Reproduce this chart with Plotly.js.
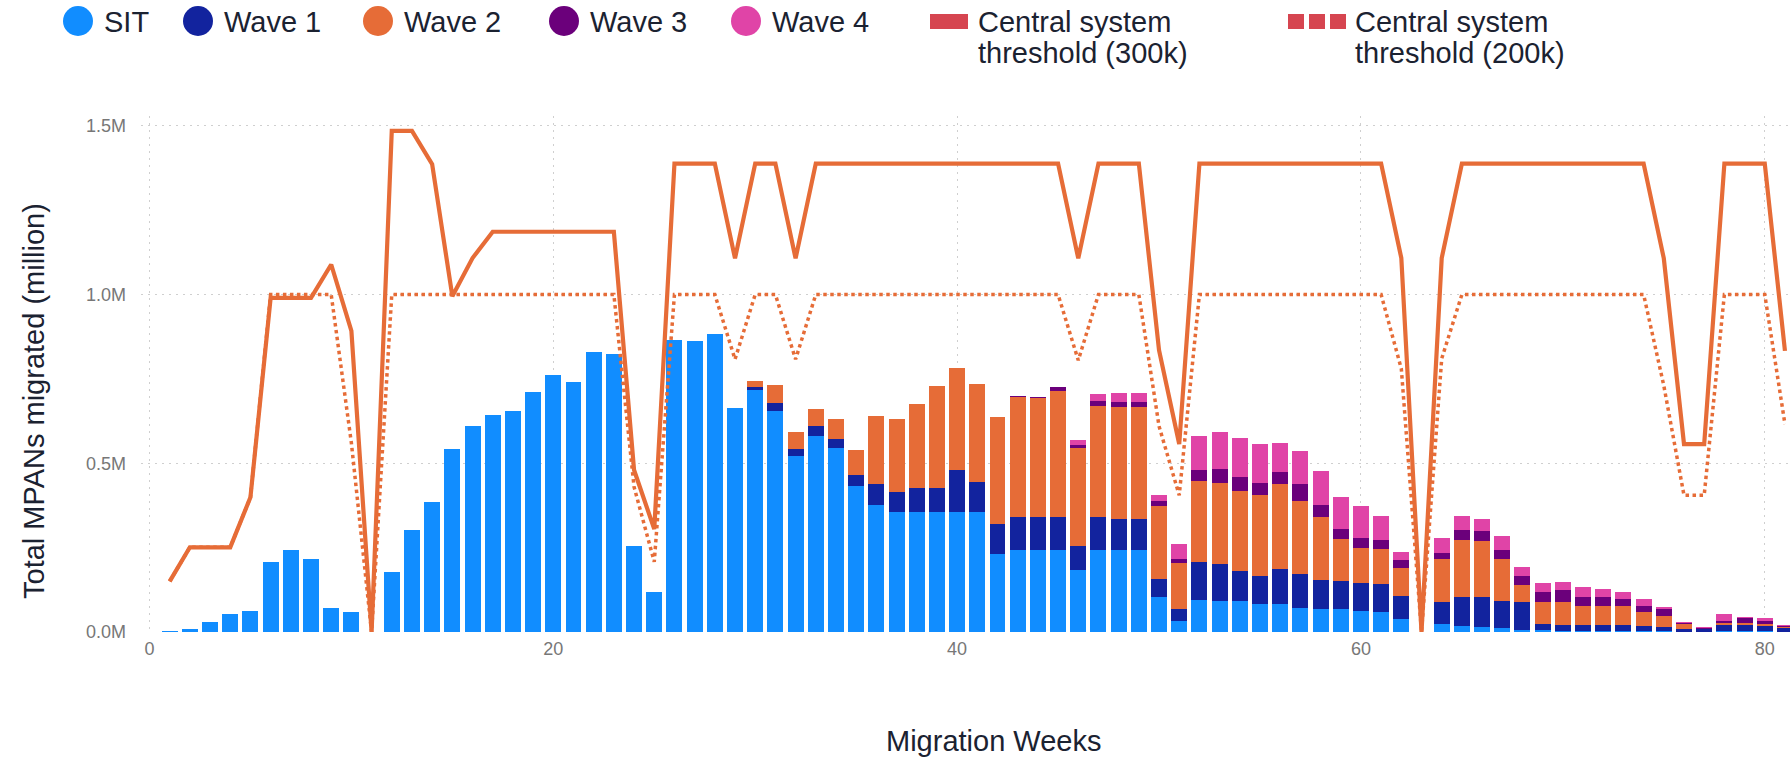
<!DOCTYPE html>
<html>
<head>
<meta charset="utf-8">
<script src="https://cdn.plot.ly/plotly-3.0.1.min.js"></script>
<style>
html,body{margin:0;padding:0;background:#ffffff;}
#chart{width:1790px;height:758px;}
</style>
</head>
<body>
<div id="chart"></div>
<script>
// ---------- DATA (values in millions of MPANs) ----------
const weeks = [1,2,3,4,5,6,7,8,9,10,11,12,13,14,15,16,17,18,19,20,
  21,22,23,24,25,26,27,28,29,30,31,32,33,34,35,36,37,38,39,40,
  41,42,43,44,45,46,47,48,49,50,51,52,53,54,55,56,57,58,59,60,
  61,62,63,64,65,66,67,68,69,70,71,72,73,74,75,76,77,78,79,80,81];

const sit = [0.003,0.008,0.030,0.053,0.061,0.207,0.244,0.215,0.072,0.058,
  0,0.177,0.302,0.385,0.541,0.609,0.643,0.654,0.710,0.763,
  0.742,0.829,0.825,0.256,0.119,0.865,0.862,0.883,0.664,0.718,
  0.655,0.522,0.582,0.546,0.434,0.376,0.355,0.355,0.355,0.355,
  0.355,0.230,0.242,0.242,0.242,0.185,0.244,0.244,0.244,0.105,
  0.032,0.095,0.093,0.092,0.082,0.082,0.071,0.067,0.067,0.061,
  0.060,0.039,0,0.024,0.018,0.016,0.011,0.007,0.005,0.004,
  0.003,0.003,0.003,0.002,0.002,0.001,0.001,0.002,0.002,0.002,
  0.001];

const wave1 = [0,0,0,0,0,0,0,0,0,0,
  0,0,0,0,0,0,0,0,0,0,
  0,0,0,0,0,0,0,0,0,0.007,
  0.024,0.019,0.027,0.026,0.030,0.064,0.061,0.072,0.072,0.125,
  0.089,0.091,0.099,0.099,0.099,0.069,0.097,0.090,0.090,0.053,
  0.036,0.112,0.108,0.088,0.084,0.106,0.100,0.086,0.083,0.085,
  0.083,0.067,0,0.066,0.086,0.088,0.081,0.082,0.019,0.017,
  0.017,0.017,0.017,0.016,0.014,0.008,0.007,0.019,0.019,0.017,
  0.012];

const wave2 = [0,0,0,0,0,0,0,0,0,0,
  0,0,0,0,0,0,0,0,0,0,
  0,0,0,0,0,0,0,0,0,0.019,
  0.052,0.053,0.053,0.060,0.076,0.199,0.216,0.250,0.301,0.301,
  0.290,0.316,0.355,0.353,0.374,0.292,0.330,0.333,0.333,0.215,
  0.136,0.240,0.242,0.237,0.240,0.250,0.218,0.188,0.125,0.103,
  0.103,0.085,0,0.125,0.169,0.166,0.125,0.049,0.066,0.067,
  0.056,0.056,0.056,0.042,0.032,0.016,0.002,0.005,0.005,0.005,
  0.003];

const wave3 = [0,0,0,0,0,0,0,0,0,0,
  0,0,0,0,0,0,0,0,0,0,
  0,0,0,0,0,0,0,0,0,0,
  0,0,0,0,0,0,0,0,0,0,
  0,0,0.002,0.003,0.010,0.007,0.014,0.016,0.016,0.016,
  0.011,0.032,0.041,0.042,0.036,0.036,0.049,0.035,0.030,0.029,
  0.026,0.021,0,0.018,0.029,0.030,0.025,0.028,0.029,0.036,
  0.028,0.028,0.023,0.018,0.019,0.002,0.001,0.006,0.016,0.008,
  0.002];

const wave4 = [0,0,0,0,0,0,0,0,0,0,
  0,0,0,0,0,0,0,0,0,0,
  0,0,0,0,0,0,0,0,0,0,
  0,0,0,0,0,0,0,0,0,0,
  0,0,0,0,0,0.017,0.019,0.024,0.024,0.016,
  0.047,0.102,0.108,0.117,0.114,0.085,0.099,0.101,0.095,0.096,
  0.071,0.026,0,0.045,0.041,0.036,0.041,0.028,0.027,0.024,
  0.028,0.022,0.021,0.020,0.007,0.003,0.005,0.021,0.002,0.010,
  0.003];

const threshold300k = [0.150,0.251,0.251,0.251,0.399,0.990,0.990,0.990,1.089,0.892,
  0,1.485,1.485,1.386,0.995,1.108,1.186,1.186,1.186,1.186,
  1.186,1.186,1.186,0.480,0.305,1.388,1.388,1.388,1.107,1.388,
  1.388,1.107,1.388,1.388,1.388,1.388,1.388,1.388,1.388,1.388,
  1.388,1.388,1.388,1.388,1.388,1.107,1.388,1.388,1.388,0.835,
  0.557,1.388,1.388,1.388,1.388,1.388,1.388,1.388,1.388,1.388,
  1.388,1.108,0,1.108,1.388,1.388,1.388,1.388,1.388,1.388,
  1.388,1.388,1.388,1.388,1.107,0.557,0.557,1.388,1.388,1.388,
  0.833];

const threshold200k = [0.150,0.251,0.251,0.251,0.399,1.0,1.0,1.0,1.0,0.56,
  0,1.0,1.0,1.0,1.0,1.0,1.0,1.0,1.0,1.0,
  1.0,1.0,1.0,0.43,0.208,1.0,1.0,1.0,0.808,1.0,
  1.0,0.808,1.0,1.0,1.0,1.0,1.0,1.0,1.0,1.0,
  1.0,1.0,1.0,1.0,1.0,0.805,1.0,1.0,1.0,0.61,
  0.405,1.0,1.0,1.0,1.0,1.0,1.0,1.0,1.0,1.0,
  1.0,0.78,0,0.81,1.0,1.0,1.0,1.0,1.0,1.0,
  1.0,1.0,1.0,1.0,0.73,0.405,0.405,1.0,1.0,1.0,
  0.616];

const barSeriesNames = ['SIT','Wave 1','Wave 2','Wave 3','Wave 4'];
const lineSeriesNames = ['Central system threshold (300k)','Central system threshold (200k)'];
const xTitle = 'Migration Weeks';
const yTitle = 'Total MPANs migrated (million)';

// ---------- STYLE / LAYOUT ----------
const barColors = ['#118DFF','#12239E','#E66C37','#6B007B','#E044A7'];
const lineColor = '#E66C37';
const legendLineColor = '#D64550';
const textColor = '#1b2231';
const FONT = 'Liberation Sans, Arial, Helvetica, sans-serif';

const W = 1790, H = 758;
const M = {l:141, r:0, t:116, b:126};
const pw = W - M.l - M.r, ph = H - M.t - M.b;
const px = x => (x - M.l) / pw;          // pixel -> paper x
const py = y => (H - M.b - y) / ph;      // pixel -> paper y

const seriesValues = [sit, wave1, wave2, wave3, wave4];
const traces = seriesValues.map((vals, i) => ({
  type: 'bar',
  name: barSeriesNames[i],
  x: weeks,
  y: vals,
  marker: {color: barColors[i], line: {width: 0}},
  showlegend: false,
  hoverinfo: 'x+y+name'
}));

traces.push({
  type: 'scatter', mode: 'lines', name: lineSeriesNames[1],
  x: weeks, y: threshold200k,
  line: {color: lineColor, width: 3.5, dash: 'dot'},
  showlegend: false
});
traces.push({
  type: 'scatter', mode: 'lines', name: lineSeriesNames[0],
  x: weeks, y: threshold300k,
  line: {color: lineColor, width: 4.2},
  showlegend: false
});

// ---------- custom legend (shapes + text) ----------
const shapes = [];
const annotations = [];
const legendCircleCenters = [78, 198, 378, 564, 746];
const legendY = 21;
legendCircleCenters.forEach((cx, i) => {
  shapes.push({type:'circle', xref:'paper', yref:'paper',
    x0: px(cx-15), x1: px(cx+15), y0: py(legendY+15), y1: py(legendY-15),
    fillcolor: barColors[i], line:{width:0}});
  annotations.push({xref:'paper', yref:'paper', x: px(cx+24), y: py(legendY+1),
    xanchor:'left', yanchor:'middle', showarrow:false, text: barSeriesNames[i],
    font:{family:FONT, size:29, color:textColor}});
});
// solid threshold legend marker
shapes.push({type:'rect', xref:'paper', yref:'paper',
  x0: px(930), x1: px(968), y0: py(29), y1: py(14), fillcolor: legendLineColor, line:{width:0}});
// dashed threshold legend marker
[[1288,1304],[1309,1325],[1330,1346]].forEach(([a,b]) => {
  shapes.push({type:'rect', xref:'paper', yref:'paper',
    x0: px(a), x1: px(b), y0: py(29), y1: py(14), fillcolor: legendLineColor, line:{width:0}});
});
const thrTextX = [976, 1353];
lineSeriesNames.forEach((nm, i) => {
  const parts = nm.split(' threshold');
  annotations.push({xref:'paper', yref:'paper', x: px(thrTextX[i]), y: py(22),
    xanchor:'left', yanchor:'middle', showarrow:false, text: parts[0],
    font:{family:FONT, size:29, color:textColor}});
  annotations.push({xref:'paper', yref:'paper', x: px(thrTextX[i]), y: py(53),
    xanchor:'left', yanchor:'middle', showarrow:false, text: 'threshold' + parts[1],
    font:{family:FONT, size:29, color:textColor}});
});

// axis titles
annotations.push({xref:'paper', yref:'paper', x: px(993), y: py(741),
  xanchor:'center', yanchor:'middle', showarrow:false, text: xTitle,
  font:{family:FONT, size:29, color:textColor}});
annotations.push({xref:'paper', yref:'paper', x: px(34), y: py(401),
  xanchor:'center', yanchor:'middle', showarrow:false, text: yTitle, textangle:-90,
  font:{family:FONT, size:29, color:textColor}});

const layout = {
  width: W, height: H,
  margin: M,
  paper_bgcolor: '#ffffff',
  plot_bgcolor: '#ffffff',
  barmode: 'stack',
  bargap: 0.21,
  showlegend: false,
  font: {family: FONT, color: textColor},
  xaxis: {
    range: [-0.42, 81.25],
    tick0: 0, dtick: 20,
    showgrid: true, gridcolor: '#cfcfcf', griddash: '2px,5px', gridwidth: 1,
    zeroline: false, showline: false, ticks: '',
    ticklabelstandoff: 4,
    tickfont: {family: FONT, size: 18, color: '#777777'}
  },
  yaxis: {
    range: [0, 1.529],
    tick0: 0, dtick: 0.5,
    tickformat: '.1f', ticksuffix: 'M',
    showgrid: true, gridcolor: '#cfcfcf', griddash: '2px,5px', gridwidth: 1,
    zeroline: false, showline: false, ticks: '',
    ticklabelstandoff: 14,
    tickfont: {family: FONT, size: 18, color: '#777777'}
  },
  shapes: shapes,
  annotations: annotations
};

Plotly.newPlot('chart', traces, layout, {displayModeBar: false, staticPlot: true});
</script>
</body>
</html>
